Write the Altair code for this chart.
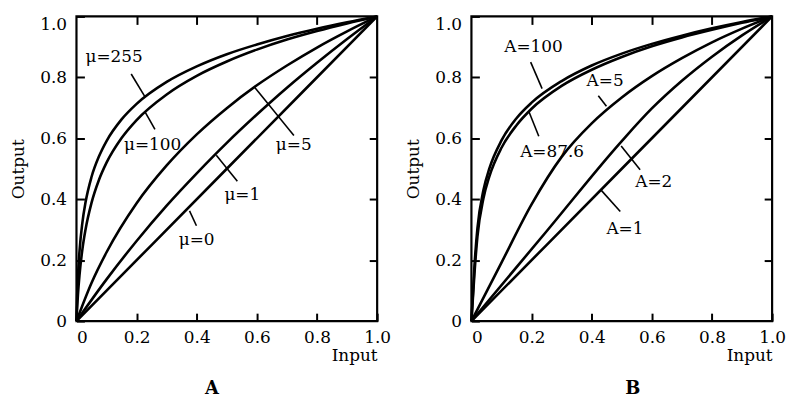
import altair as alt
import pandas as pd

# ---------------- Panel A : mu-law curves ----------------
X_MU255 = [0, 0.002, 0.005, 0.01, 0.02, 0.03, 0.05, 0.075, 0.1, 0.15, 0.2, 0.3, 0.4, 0.5, 0.6, 0.7, 0.8, 0.9, 1.0]
Y_MU255 = [0, 0.074, 0.148, 0.228, 0.326, 0.389, 0.473, 0.541, 0.591, 0.662, 0.713, 0.785, 0.836, 0.876, 0.908, 0.936, 0.960, 0.981, 1.0]
X_MU100 = [0, 0.002, 0.005, 0.01, 0.02, 0.03, 0.05, 0.075, 0.1, 0.15, 0.2, 0.3, 0.4, 0.5, 0.6, 0.7, 0.8, 0.9, 1.0]
Y_MU100 = [0, 0.040, 0.088, 0.150, 0.238, 0.300, 0.388, 0.464, 0.520, 0.601, 0.660, 0.744, 0.805, 0.852, 0.891, 0.924, 0.952, 0.977, 1.0]
X_MU5 = [0, 0.05, 0.1, 0.2, 0.3, 0.4, 0.5, 0.6, 0.7, 0.8, 0.9, 1.0]
Y_MU5 = [0, 0.125, 0.226, 0.387, 0.511, 0.613, 0.699, 0.774, 0.839, 0.898, 0.951, 1.0]
X_MU1 = [0, 0.1, 0.2, 0.3, 0.4, 0.5, 0.6, 0.7, 0.8, 0.9, 1.0]
Y_MU1 = [0, 0.137, 0.263, 0.379, 0.485, 0.585, 0.678, 0.766, 0.848, 0.926, 1.0]
X_MU0 = [0, 0.5, 1.0]
Y_MU0 = [0, 0.5, 1.0]

# ---------------- Panel B : A-law curves ----------------
X_A100 = [0, 0.01, 0.02, 0.04, 0.06, 0.1, 0.15, 0.2, 0.3, 0.4, 0.5, 0.6, 0.7, 0.8, 0.9, 1.0]
Y_A100 = [0, 0.180, 0.305, 0.430, 0.502, 0.593, 0.666, 0.717, 0.788, 0.839, 0.878, 0.910, 0.937, 0.961, 0.982, 1.0]
X_A876 = [0, 0.01, 0.02, 0.04, 0.06, 0.1, 0.15, 0.2, 0.3, 0.4, 0.5, 0.6, 0.7, 0.8, 0.9, 1.0]
Y_A876 = [0, 0.155, 0.278, 0.403, 0.476, 0.569, 0.643, 0.697, 0.772, 0.825, 0.867, 0.902, 0.931, 0.956, 0.979, 1.0]
X_A5 = [0, 0.1, 0.2, 0.3, 0.4, 0.5, 0.6, 0.7, 0.8, 0.9, 1.0]
Y_A5 = [0, 0.192, 0.383, 0.539, 0.649, 0.734, 0.804, 0.863, 0.915, 0.96, 1.0]
X_A2 = [0, 0.25, 0.5, 0.6, 0.7, 0.8, 0.9, 1.0]
Y_A2 = [0, 0.295, 0.591, 0.698, 0.789, 0.868, 0.938, 1.0]
X_A1 = [0, 0.5, 1.0]
Y_A1 = [0, 0.5, 1.0]

# ---------------- annotations (label text, anchor in data units) ----------------
LABELS_A = ["μ=255", "μ=100", "μ=5", "μ=1", "μ=0"]
LABEL_X_A = [0.030, 0.158, 0.663, 0.492, 0.340]
LABEL_Y_A = [0.866, 0.577, 0.577, 0.414, 0.267]
LEAD_A = [(0.182, 0.811, 0.228, 0.736), (0.228, 0.687, 0.261, 0.629),
          (0.591, 0.769, 0.723, 0.609), (0.465, 0.544, 0.535, 0.459),
          (0.376, 0.362, 0.399, 0.313)]

LABELS_B = ["A=100", "A=87.6", "A=5", "A=2", "A=1"]
LABEL_X_B = [0.109, 0.162, 0.383, 0.545, 0.449]
LABEL_Y_B = [0.899, 0.555, 0.789, 0.455, 0.302]
LEAD_B = [(0.197, 0.850, 0.235, 0.763), (0.191, 0.688, 0.224, 0.607),
          (0.422, 0.740, 0.449, 0.705), (0.498, 0.575, 0.561, 0.497),
          (0.432, 0.429, 0.495, 0.360)]

TICKS = [0, 0.2, 0.4, 0.6, 0.8, 1.0]
INNER_TICKS = [0.2, 0.4, 0.6, 0.8]

FONT = "DejaVu Serif"
FS = 17


def curves_df(series):
    rows = []
    for name, xs, ys in series:
        for x, y in zip(xs, ys):
            rows.append({"curve": name, "x": x, "y": y})
    return pd.DataFrame(rows)


def panel(series, labels, lx, ly, leads, title, dx):
    sc = alt.Scale(domain=[0, 1], nice=False, zero=False)
    lab_expr = "datum.value == 0 ? '0' : format(datum.value, '.1f')"
    bottom = alt.Axis(orient="bottom", values=TICKS, labelExpr=lab_expr, offset=-8,
                      tickSize=8, tickWidth=2, tickColor="black", domain=False, grid=False,
                      labelFont=FONT, labelFontSize=FS, labelColor="black", labelPadding=9,
                      labelAlign={"condition": {"test": "datum.value == 0", "value": "left"},
                                  "value": "center"},
                      title="Input", titleAnchor="end", titleAlign="right",
                      titleFont=FONT, titleFontSize=FS, titleFontWeight="normal",
                      titleColor="black", titlePadding=2)
    left = alt.Axis(orient="left", values=TICKS, labelExpr=lab_expr, offset=-8,
                    tickSize=8, tickWidth=2, tickColor="black", domain=False, grid=False,
                    labelFont=FONT, labelFontSize=FS, labelColor="black", labelPadding=10,
                    labelBaseline={"condition": {"test": "datum.value == 1", "value": "top"},
                                   "value": "middle"},
                    title="Output", titleFont=FONT, titleFontSize=FS,
                    titleFontWeight="normal", titleColor="black", titlePadding=12)
    top = alt.Axis(orient="top", values=INNER_TICKS, offset=-8, tickSize=8, tickWidth=2,
                   tickColor="black", domain=False, grid=False, labels=False, title=None)
    right = alt.Axis(orient="right", values=INNER_TICKS, offset=-8, tickSize=8, tickWidth=2,
                     tickColor="black", domain=False, grid=False, labels=False, title=None)

    lines = alt.Chart(curves_df(series)).mark_line(
        color="black", strokeWidth=2.6, interpolate="monotone"
    ).encode(
        x=alt.X("x:Q", scale=sc, axis=bottom),
        y=alt.Y("y:Q", scale=sc, axis=left),
        detail="curve:N",
    )
    lead_df = pd.DataFrame(leads, columns=["x", "y", "x2", "y2"])
    leaders = alt.Chart(lead_df).mark_rule(color="black", strokeWidth=1.6).encode(
        x=alt.X("x:Q", scale=sc, axis=top),
        y=alt.Y("y:Q", scale=sc, axis=right),
        x2="x2:Q",
        y2="y2:Q",
    )
    lab_df = pd.DataFrame({"label": labels, "x": lx, "y": ly})
    texts = alt.Chart(lab_df).mark_text(
        align="left", baseline="middle", font=FONT, fontSize=FS, color="black"
    ).encode(
        x=alt.X("x:Q", scale=sc, axis=None),
        y=alt.Y("y:Q", scale=sc, axis=None),
        text="label:N",
    )
    return alt.layer(lines, leaders, texts).resolve_axis(
        x="independent", y="independent"
    ).properties(
        width=303, height=307,
        title=alt.TitleParams(title, orient="bottom", anchor="middle", dx=dx, offset=16,
                              font=FONT, fontSize=18, fontWeight="bold", color="black"),
    )


pA = panel([("mu255", X_MU255, Y_MU255), ("mu100", X_MU100, Y_MU100),
            ("mu5", X_MU5, Y_MU5), ("mu1", X_MU1, Y_MU1), ("mu0", X_MU0, Y_MU0)],
           LABELS_A, LABEL_X_A, LABEL_Y_A, LEAD_A, "A", -15)
pB = panel([("a100", X_A100, Y_A100), ("a876", X_A876, Y_A876),
            ("a5", X_A5, Y_A5), ("a2", X_A2, Y_A2), ("a1", X_A1, Y_A1)],
           LABELS_B, LABEL_X_B, LABEL_Y_B, LEAD_B, "B", 11)

chart = alt.hconcat(pA, pB, spacing=95, bounds="flush").properties(
    padding=0, background="white"
).configure_view(stroke="black", strokeWidth=2.2)

chart.save("out.html", embed_options={"renderer": "svg", "actions": False})
